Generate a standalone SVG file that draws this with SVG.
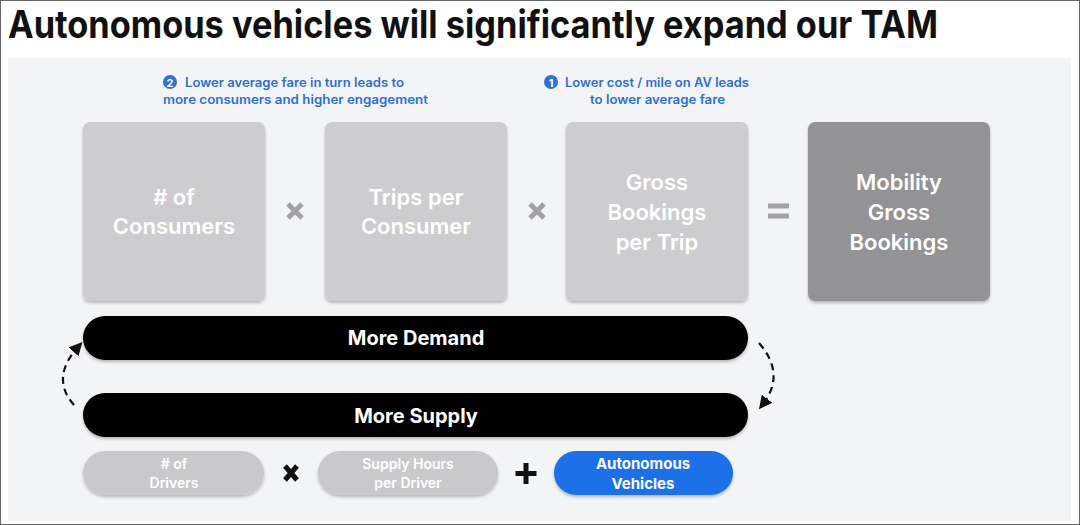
<svg xmlns="http://www.w3.org/2000/svg" width="1080" height="525" viewBox="0 0 1080 525">
<defs>
<style>
.t{font-family:Inter,"Liberation Sans",sans-serif;font-weight:700}
.box{fill:#cdcdcf}
.dark{fill:#939396}
.bt{fill:#fff;font-size:22px;text-anchor:middle;font-weight:600}
.st{fill:#fff;font-size:14px;text-anchor:middle;font-weight:600}
.ann{fill:#2f6fd8;font-size:12.5px;font-weight:600}
.op{stroke:#a3a3a6;stroke-width:5;fill:none}
.arc{stroke:#111;stroke-width:2.2;fill:none;stroke-dasharray:7 5}
</style>
<filter id="sh" x="-10%" y="-10%" width="120%" height="130%">
<feDropShadow dx="0" dy="2" stdDeviation="1.5" flood-color="#000" flood-opacity="0.25"/>
</filter>
<marker id="ah" viewBox="0 0 10 10" refX="5" refY="5" markerWidth="6" markerHeight="6" orient="auto">
<path d="M0,0 L10,5 L0,10 z" fill="#111"/>
</marker>
</defs>
<rect x="0" y="0" width="1080" height="525" fill="#fff"/>
<rect x="8" y="58" width="1063" height="463" fill="#f3f4f6"/>
<rect x="0.5" y="0.5" width="1079" height="524" fill="none" stroke="#666" stroke-width="1"/>
<text class="t" x="8" y="38" font-size="38" fill="#111" textLength="930" lengthAdjust="spacingAndGlyphs">Autonomous vehicles will significantly expand our TAM</text>

<g id="ann2">
<circle cx="170" cy="82" r="7" fill="#2f6fd8"/>
<text class="t" x="170" y="86.5" font-size="11" fill="#fff" text-anchor="middle">2</text>
<text class="t ann" x="185" y="87" textLength="219" lengthAdjust="spacingAndGlyphs">Lower average fare in turn leads to</text>
<text class="t ann" x="163" y="104" textLength="265" lengthAdjust="spacingAndGlyphs">more consumers and higher engagement</text>
</g>
<g id="ann1">
<circle cx="551" cy="82" r="7" fill="#2f6fd8"/>
<text class="t" x="551" y="86.5" font-size="11" fill="#fff" text-anchor="middle">1</text>
<text class="t ann" x="565" y="87" textLength="184" lengthAdjust="spacingAndGlyphs">Lower cost / mile on AV leads</text>
<text class="t ann" x="590" y="104" textLength="135" lengthAdjust="spacingAndGlyphs">to lower average fare</text>
</g>

<g id="consumers">
<rect class="box" x="83" y="122" width="182" height="179" rx="7" filter="url(#sh)"/>
<text class="t bt" x="174" y="205"><tspan x="174"># of</tspan><tspan x="174" dy="29">Consumers</tspan></text>
</g>
<g id="trips">
<rect class="box" x="325" y="122" width="182" height="179" rx="7" filter="url(#sh)"/>
<text class="t bt" x="416" y="205"><tspan x="416">Trips per</tspan><tspan x="416" dy="29">Consumer</tspan></text>
</g>
<g id="gbtrip">
<rect class="box" x="566" y="122" width="182" height="179" rx="7" filter="url(#sh)"/>
<text class="t bt" x="657" y="190"><tspan x="657">Gross</tspan><tspan x="657" dy="30">Bookings</tspan><tspan x="657" dy="30">per Trip</tspan></text>
</g>
<g id="mobility">
<rect class="dark" x="808" y="122" width="182" height="179" rx="7" filter="url(#sh)"/>
<text class="t bt" x="899" y="190"><tspan x="899">Mobility</tspan><tspan x="899" dy="30">Gross</tspan><tspan x="899" dy="30">Bookings</tspan></text>
</g>

<g id="ops">
<path class="op" d="M288,204 L302,218 M302,204 L288,218"/>
<path class="op" d="M530,204 L544,218 M544,204 L530,218"/>
<path class="op" d="M768,206 H789 M768,216 H789"/>
<path d="M285,466 L297,480 M297,466 L285,480" stroke="#111" stroke-width="5" fill="none"/>
<path d="M526,463 V484 M515.5,473.5 H536.5" stroke="#111" stroke-width="5" fill="none"/>
</g>

<g id="demand">
<rect x="83" y="316" width="665" height="44" rx="22" fill="#000" filter="url(#sh)"/>
<text class="t" x="416" y="345" font-size="20" font-weight="600" fill="#fff" text-anchor="middle">More Demand</text>
</g>
<g id="supply">
<rect x="83" y="393" width="665" height="44" rx="22" fill="#000" filter="url(#sh)"/>
<text class="t" x="416" y="423" font-size="20" font-weight="600" fill="#fff" text-anchor="middle">More Supply</text>
</g>

<g id="drivers">
<rect x="83" y="451" width="181" height="44" rx="22" fill="#c9c9cb" filter="url(#sh)"/>
<text class="t st" x="174" y="469"><tspan x="174"># of</tspan><tspan x="174" dy="19">Drivers</tspan></text>
</g>
<g id="hours">
<rect x="318" y="451" width="180" height="44" rx="22" fill="#c9c9cb" filter="url(#sh)"/>
<text class="t st" x="408" y="469"><tspan x="408">Supply Hours</tspan><tspan x="408" dy="19">per Driver</tspan></text>
</g>
<g id="av">
<rect x="554" y="451" width="179" height="44" rx="22" fill="#1f6fe8" filter="url(#sh)"/>
<text class="t" x="643" y="469" font-size="15" font-weight="600" fill="#fff" text-anchor="middle"><tspan x="643">Autonomous</tspan><tspan x="643" dy="20">Vehicles</tspan></text>
</g>

<g id="connectors">
<path class="arc" d="M74,405 Q50,378 78,347" marker-end="url(#ah)"/>
<path class="arc" d="M759,343 Q786,374 763,404" marker-end="url(#ah)"/>
</g>
</svg>
